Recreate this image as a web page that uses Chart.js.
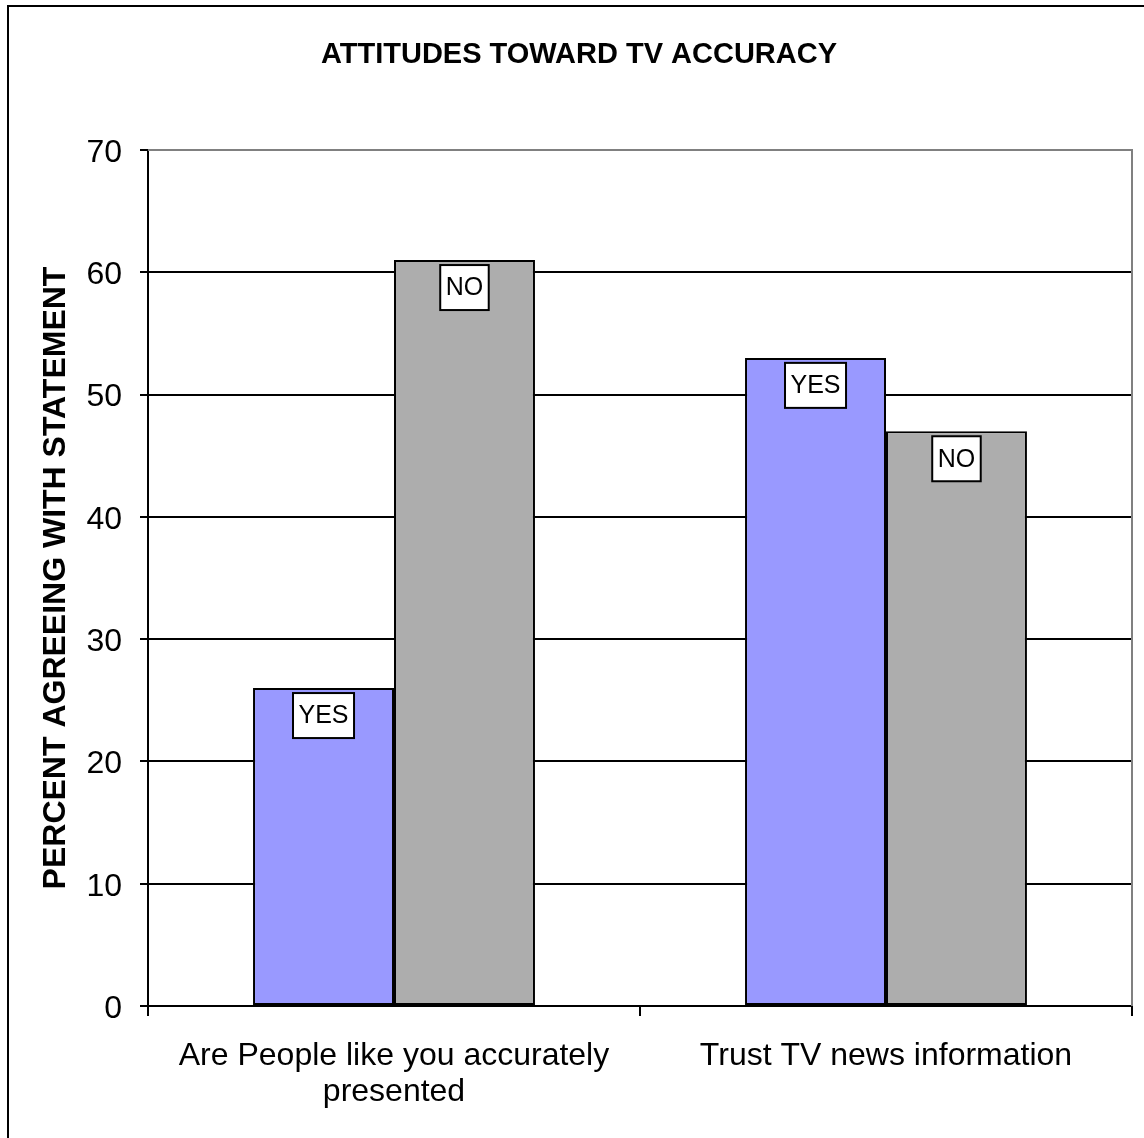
<!DOCTYPE html>
<html>
<head>
<meta charset="utf-8">
<script src="https://cdn.jsdelivr.net/npm/chart.js@4/dist/chart.umd.min.js"></script>
<style>
  html, body { margin: 0; padding: 0; background: #fff; }
  #wrap { width: 1144px; height: 1138px; }
</style>
</head>
<body>
<div id="wrap"><canvas id="c" width="1144" height="1138"></canvas></div>
<script>
const chartTitle = 'ATTITUDES TOWARD TV ACCURACY';
const yAxisTitle = 'PERCENT AGREEING WITH STATEMENT';
const categories = [['Are People like you accurately', 'presented'], 'Trust TV news information'];
const seriesNames = ['YES', 'NO'];
const yesValues = [26, 53];
const noValues = [61, 47];
const yTicks = [0, 10, 20, 30, 40, 50, 60, 70];

const FONT = '"Liberation Sans", Arial, sans-serif';

// Outer frame, plot frame and title
const framePlugin = {
  id: 'frame',
  beforeDraw(chart) {
    const ctx = chart.ctx;
    ctx.save();
    ctx.fillStyle = '#fff';
    ctx.fillRect(0, 0, chart.width, chart.height);
    ctx.strokeStyle = '#000';
    ctx.lineWidth = 2;
    ctx.beginPath();
    ctx.moveTo(8, chart.height);
    ctx.lineTo(8, 6);
    ctx.lineTo(chart.width, 6);
    ctx.stroke();
    ctx.fillStyle = '#000';
    ctx.font = 'bold 29px ' + FONT;
    ctx.textAlign = 'center';
    ctx.textBaseline = 'middle';
    ctx.fillText(chartTitle, 579, 55);
    ctx.restore();
  },
  beforeDatasetsDraw(chart) {
    const a = chart.chartArea;
    const ctx = chart.ctx;
    ctx.save();
    ctx.strokeStyle = '#808080';
    ctx.lineWidth = 2;
    ctx.beginPath();
    ctx.moveTo(a.left, a.top);
    ctx.lineTo(a.right, a.top);
    ctx.lineTo(a.right, a.bottom);
    ctx.stroke();
    ctx.restore();
  }
};

// Boxed series-name labels just inside the top of each bar
const labelPlugin = {
  id: 'boxLabels',
  afterDatasetsDraw(chart) {
    const ctx = chart.ctx;
    ctx.save();
    ctx.font = '25px ' + FONT;
    ctx.textAlign = 'center';
    ctx.textBaseline = 'middle';
    chart.data.datasets.forEach((ds, di) => {
      const meta = chart.getDatasetMeta(di);
      meta.data.forEach((bar) => {
        const text = ds.label;
        const w = ctx.measureText(text).width + 11;
        const h = 45;
        const cx = bar.x;
        const top = bar.y + 5;
        ctx.fillStyle = '#fff';
        ctx.fillRect(cx - w / 2, top, w, h);
        ctx.strokeStyle = '#000';
        ctx.lineWidth = 2;
        ctx.strokeRect(cx - w / 2, top, w, h);
        ctx.fillStyle = '#000';
        ctx.fillText(text, cx, top + h / 2 + 1);
      });
    });
    ctx.restore();
  }
};

new Chart(document.getElementById('c'), {
  type: 'bar',
  data: {
    labels: categories,
    datasets: [
      { label: seriesNames[0], data: yesValues, backgroundColor: '#9999FF', borderColor: '#000', borderWidth: 2, borderSkipped: false },
      { label: seriesNames[1], data: noValues, backgroundColor: '#ADADAD', borderColor: '#000', borderWidth: 2, borderSkipped: false }
    ]
  },
  options: {
    responsive: false,
    animation: false,
    devicePixelRatio: 1,
    layout: { padding: { left: 8, top: 150, right: 12, bottom: 0 } },
    plugins: {
      legend: { display: false },
      title: { display: false },
      tooltip: { enabled: false }
    },
    datasets: { bar: { categoryPercentage: 0.573, barPercentage: 1 } },
    scales: {
      x: {
        afterFit(scale) { scale.height = 132; },
        grid: { offset: true, drawOnChartArea: false, color: '#000', lineWidth: 2, tickLength: 10 },
        border: { color: '#000', width: 2 },
        ticks: { color: '#000', font: { family: FONT, size: 32, lineHeight: 36 / 32 }, padding: 22, maxRotation: 0, autoSkip: false }
      },
      y: {
        min: 0,
        max: 70,
        afterFit(scale) { scale.width = 140; },
        afterBuildTicks(scale) { scale.ticks = yTicks.map(v => ({ value: v })); },
        grid: {
          color: (c) => (c.tick && c.tick.value === 70 ? '#808080' : '#000'),
          tickColor: '#000',
          lineWidth: 2,
          tickLength: 8
        },
        border: { color: '#000', width: 2 },
        ticks: { color: '#000', font: { family: FONT, size: 32 }, padding: 18, labelOffset: 3 },
        title: {
          display: true,
          text: yAxisTitle,
          color: '#000',
          font: { family: FONT, size: 32, weight: 'bold' },
          padding: { top: 29, bottom: 0 }
        }
      }
    }
  },
  plugins: [framePlugin, labelPlugin]
});
</script>
</body>
</html>
